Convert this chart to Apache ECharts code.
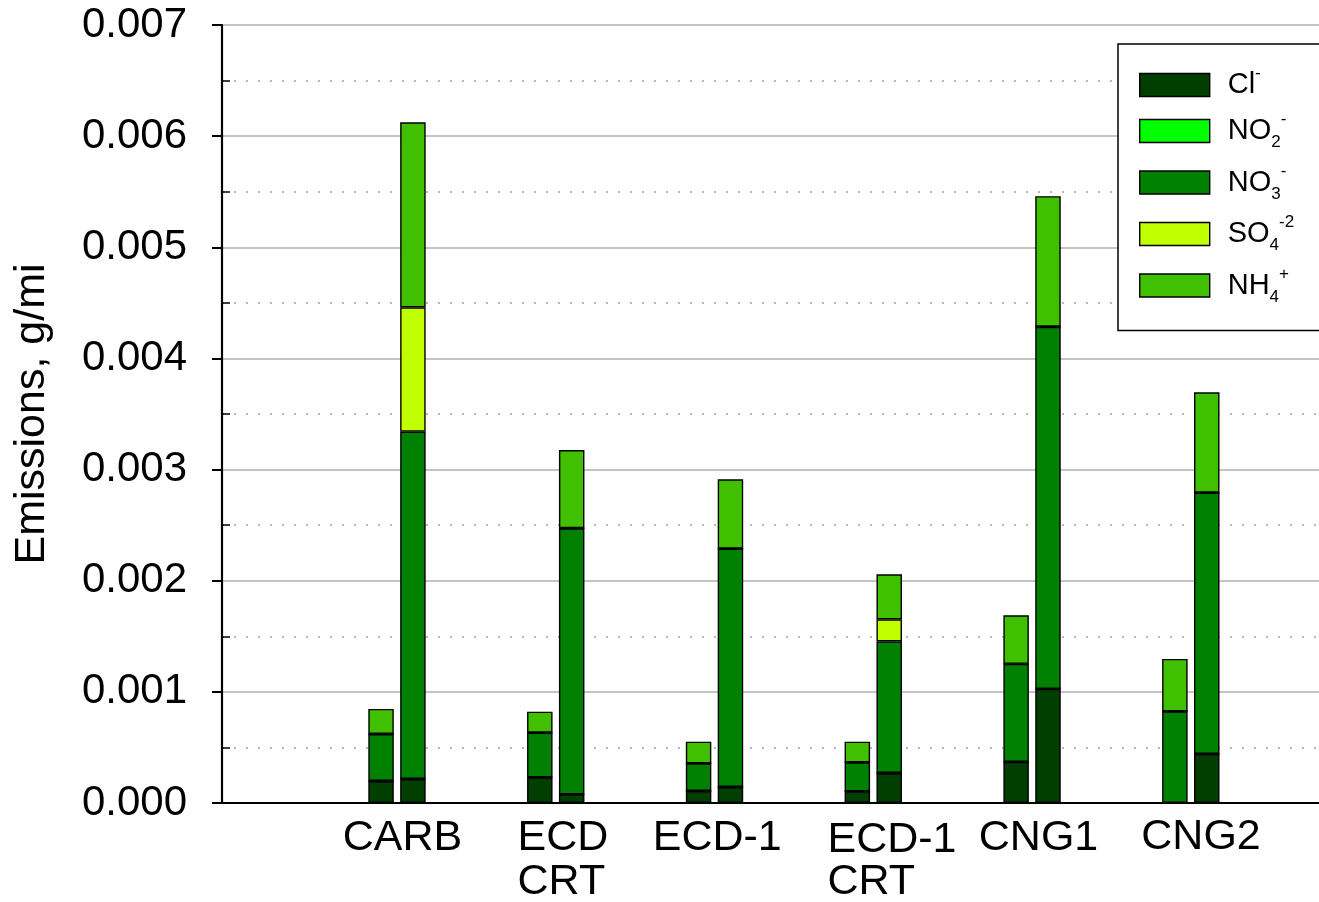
<!DOCTYPE html>
<html>
<head>
<meta charset="utf-8">
<script src="https://cdn.jsdelivr.net/npm/echarts@6/dist/echarts.min.js"></script>
<style>
  html, body { margin: 0; padding: 0; background: #ffffff; }
  #chart { width: 1319px; height: 902px; }
</style>
</head>
<body>
<div id="chart"></div>
<script>
// Vehicle / after-treatment configurations (two bars each)
const categories = ['CARB', 'ECD\nCRT', 'ECD-1', 'ECD-1\nCRT', 'CNG1', 'CNG2'];

// Y-axis tick labels (g/mi)
const yTickLabels = ['0.000', '0.001', '0.002', '0.003', '0.004', '0.005', '0.006', '0.007'];

// Ion species, stacked bottom to top
const species = ['Cl', 'NO2', 'NO3', 'SO4', 'NH4'];
const speciesLabels = {
  Cl:  '{g| }{m|Cl}{sup|-}',
  NO2: '{g| }{m|NO}{sub|2}{sup|-}',
  NO3: '{g| }{m|NO}{sub|3}{sup|-}',
  SO4: '{g| }{m|SO}{sub|4}{sup|-2}',
  NH4: '{g| }{m|NH}{sub|4}{sup|+}'
};
const speciesColors = {
  Cl:  '#003f00',
  NO2: '#00ff00',
  NO3: '#008000',
  SO4: '#c0ff00',
  NH4: '#40c000'
};

// Emissions, g/mi — first bar of each pair
const clA  = [0.000198, 0.000231, 0.000108, 0.000105, 0.000370, 0];
const no2A = [0, 0, 0, 0, 0, 0];
const no3A = [0.000423, 0.000402, 0.000249, 0.000261, 0.000882, 0.000825];
const so4A = [0, 0, 0, 0, 0, 0];
const nh4A = [0.000225, 0.000189, 0.000195, 0.000186, 0.000437, 0.000471];

// Emissions, g/mi — second bar of each pair
const clB  = [0.000216, 0.000078, 0.000144, 0.000270, 0.001026, 0.000441];
const no2B = [0, 0, 0, 0, 0, 0];
const no3B = [0.003125, 0.002394, 0.002144, 0.001185, 0.003259, 0.002351];
const so4B = [0.001119, 0, 0, 0.000198, 0, 0];
const nh4B = [0.001665, 0.000704, 0.000624, 0.000405, 0.001175, 0.000903];

const barsA = { Cl: clA, NO2: no2A, NO3: no3A, SO4: so4A, NH4: nh4A };
const barsB = { Cl: clB, NO2: no2B, NO3: no3B, SO4: so4B, NH4: nh4B };

const FONT = 'Liberation Sans, Arial, Helvetica, sans-serif';
const Y_MAX = 0.007;
const LABEL_SIZE = 43;

// Category label placement tweaks (px): horizontal nudge, extra top padding;
// multi-line labels are left-aligned line by line.
const labelLayout = {
  'CARB':       { dx: 5.5, dy: 2 },
  'ECD\nCRT':   { dx: 7.2, dy: 2 },
  'ECD-1':      { dx: 2.7, dy: 2 },
  'ECD-1\nCRT': { dx: 18.7, dy: 5 },
  'CNG1':       { dx: 6.5, dy: 1 },
  'CNG2':       { dx: 10.2, dy: 0 }
};

const measureCtx = document.createElement('canvas').getContext('2d');
measureCtx.font = LABEL_SIZE + 'px ' + FONT;
function textWidth(s) { return measureCtx.measureText(s).width; }

const labelRich = {};
function categoryLabel(value, idx) {
  const lay = labelLayout[value] || { dx: 0, dy: 0 };
  const lines = value.split('\n');
  const maxW = Math.max.apply(null, lines.map(textWidth));
  return lines.map(function (line, li) {
    const key = 'c' + idx + '_' + li;
    labelRich[key] = {
      fontFamily: FONT, fontSize: LABEL_SIZE, lineHeight: 45, color: '#000',
      padding: [li === 0 ? lay.dy : 0, maxW - textWidth(line), 0, 2 * Math.max(lay.dx, 0)]
    };
    return '{' + key + '|' + line + '}';
  }).join('\n');
}
const categoryLabels = categories.map(categoryLabel);

const series = [];
species.forEach(function (sp) {
  [['first', barsA], ['second', barsB]].forEach(function (pair) {
    series.push({
      name: sp,
      type: 'bar',
      stack: pair[0],
      xAxisIndex: 2,
      yAxisIndex: 2,
      barWidth: 25.5,
      barGap: '25%',
      data: pair[1][sp],
      itemStyle: { color: speciesColors[sp], borderColor: '#000', borderWidth: 1.4 },
      emphasis: { disabled: true },
      animation: false
    });
  });
});

const chart = echarts.init(document.getElementById('chart'), null, { renderer: 'canvas' });

chart.setOption({
  backgroundColor: '#ffffff',
  animation: false,
  grid: [
    // frame: axes, grid lines
    { left: 222, top: 25, bottom: 99, right: -40, containLabel: false, outerBoundsMode: 'none' },
    // bar area
    { left: 317.6, top: 25, bottom: 99, right: 48.8, containLabel: false, outerBoundsMode: 'none' }
  ],
  xAxis: [
    {
      type: 'value', gridIndex: 0, position: 'bottom', min: 0, max: 1,
      axisLine: { show: true, lineStyle: { color: '#000', width: 2.2 } },
      axisTick: { show: false }, axisLabel: { show: false }, splitLine: { show: false }
    },
    {
      type: 'value', gridIndex: 0, position: 'top', min: 0, max: 1,
      axisLine: { show: true, lineStyle: { color: '#000', width: 2.2 } },
      axisTick: { show: false }, axisLabel: { show: false }, splitLine: { show: false }
    },
    {
      type: 'category', gridIndex: 1, position: 'bottom', data: categories,
      axisLine: { show: false }, axisTick: { show: false }, splitLine: { show: false },
      axisLabel: {
        show: true, interval: 0, margin: 12,
        fontFamily: FONT, fontSize: LABEL_SIZE, lineHeight: 45, color: '#000',
        formatter: function (value, idx) { return categoryLabels[idx]; },
        rich: labelRich
      }
    }
  ],
  yAxis: [
    {
      type: 'value', gridIndex: 0, position: 'left', min: 0, max: Y_MAX, interval: 0.001,
      name: 'Emissions, g/mi', nameLocation: 'middle', nameGap: 168,
      nameTextStyle: { fontFamily: FONT, fontSize: 43, color: '#000' },
      axisLine: { show: true, lineStyle: { color: '#000', width: 2.2 } },
      axisTick: { show: true, inside: false, length: 10, lineStyle: { color: '#000', width: 2 } },
      axisLabel: {
        show: true, margin: 35, fontFamily: FONT, fontSize: 42, color: '#000',
        formatter: function (v) { return yTickLabels[Math.round(v / 0.001)]; }
      },
      splitLine: { show: true, lineStyle: { color: '#c4c4c4', width: 2 } },
      minorTick: { show: false, splitNumber: 2 },
      minorSplitLine: { show: true, lineStyle: { color: '#b8b8b8', width: 2, type: [2, 10] } }
    },
    {
      // inward minor ticks
      type: 'value', gridIndex: 0, position: 'left', min: 0, max: Y_MAX, interval: 0.001,
      axisLine: { show: false },
      axisTick: { show: false, inside: true },
      axisLabel: { show: false },
      splitLine: { show: false },
      minorTick: { show: true, splitNumber: 2, length: 8, lineStyle: { color: '#000', width: 1.5 } },
      minorSplitLine: { show: false }
    },
    {
      type: 'value', gridIndex: 1, min: 0, max: Y_MAX, interval: 0.001, show: false,
      splitLine: { show: false }
    }
  ],
  legend: {
    orient: 'vertical',
    left: 1118, top: 44,
    data: species,
    icon: 'rect',
    itemWidth: 70, itemHeight: 23, itemGap: 11.5,
    padding: [21, 40, 25, 21],
    backgroundColor: '#ffffff',
    borderColor: '#000', borderWidth: 1.5, borderRadius: 0,
    selectedMode: false,
    itemStyle: { borderColor: '#000', borderWidth: 1.4 },
    formatter: function (name) { return speciesLabels[name]; },
    textStyle: {
      fontFamily: FONT, fontSize: 29, color: '#000',
      rich: {
        g:   { width: 13, fontSize: 10, lineHeight: 40 },
        m:   { fontFamily: FONT, fontSize: 29, lineHeight: 40, color: '#000' },
        sub: { fontFamily: FONT, fontSize: 17, lineHeight: 17, verticalAlign: 'bottom', color: '#000' },
        sup: { fontFamily: FONT, fontSize: 17, lineHeight: 17, verticalAlign: 'top', color: '#000' }
      }
    }
  },
  series: series
});
</script>
</body>
</html>
